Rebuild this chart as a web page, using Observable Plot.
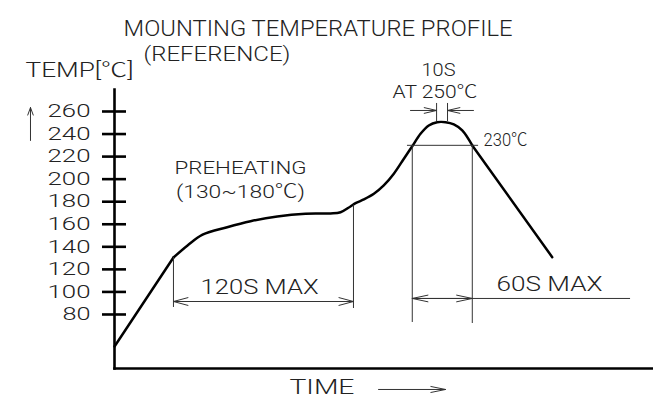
<!DOCTYPE html>
<html><head><meta charset="utf-8">
<script src="https://cdn.jsdelivr.net/npm/d3@7"></script>
<script src="https://cdn.jsdelivr.net/npm/@observablehq/plot@0.6"></script>
<style>
html,body{margin:0;padding:0;background:#fff;}
#chart{width:653px;height:405px;overflow:hidden;}
#chart svg text{font-family:Roboto,"Noto Sans CJK SC","Liberation Sans",sans-serif;font-weight:300;fill:#222;}
</style></head><body><div id="chart"></div>
<script>
// ---- Profile curve (time in s, temperature in °C) ----
const curveTime = [0, 39.3, 48.7, 58.7, 75.1, 90.7, 108.5, 127.3, 144, 150.7, 157.3, 160.7, 166.2, 172.9, 179.5, 186.2, 192.9, 198.5, 204, 209.5, 215.1, 220.7, 226.2, 231.8, 238.5, 291.8];
const curveTemp = [51.6, 130.5, 141.2, 150.8, 157.4, 162.7, 166.9, 169.3, 169.6, 170.7, 175.8, 178.7, 182, 187, 194.4, 204.8, 218.1, 229.2, 240.2, 247.6, 250.5, 250.5, 248.5, 243.2, 229.9, 130.8];

// ---- Axis ----
const yTicks = [80, 100, 120, 140, 160, 180, 200, 220, 240, 260];
const tempMin = 32.1, tempMax = 279.5;
const timeMin = 0, timeMax = 359.3;

// ---- Dimension annotations ----
const preheatTimes = [39.3, 159.3];       // 120S MAX span
const preheatTops = [130.5, 177];
const preheatBottoms = [86.2, 85.3];
const preheatArrowTemp = 91.5;
const reflowTimes = [198.5, 238.5];       // 60S MAX span (above 230 °C)
const reflowTemp = 230;
const reflowBottoms = [72.9, 72.0];
const reflowArrowTemp = 94.2;
const reflowTailEnd = 344;
const reflowRule = [195.3, 242.7];
const peakTimes = [214.7, 222];           // 10S at 250 °C
const peakExt = [251, 267.1];
const peakArrowTemp = 260.9;
const peakArrowOuter = [197.3, 239.3];
const timeArrow = [176, 220.7], timeArrowTemp = 13.5;
const tempArrowTime = -56, tempArrowRange = [234.3, 263.5];

// ---- Text labels ----
const labels = [
  {text: "MOUNTING TEMPERATURE PROFILE", t: 135.7, T: 333.6, size: 22},
  {text: "(REFERENCE)", t: 68.3, T: 310.5, size: 20},
  {text: "TEMP[℃]", t: -23.3, T: 296.3, size: 20},
  {text: "PREHEATING", t: 84, T: 209.9, size: 19},
  {text: "(130~180℃)", t: 84, T: 189.0, size: 19},
  {text: "10S", t: 216, T: 296.8, size: 18},
  {text: "AT 250℃", t: 213.7, T: 277.3, size: 18},
  {text: "230℃", t: 260.7, T: 234.3, size: 18},
  {text: "120S MAX", t: 96.7, T: 103.9, size: 20},
  {text: "60S MAX", t: 290, T: 106.6, size: 20},
  {text: "TIME", t: 138.3, T: 14.8, size: 20}
];
const textWidths = {
  "MOUNTING TEMPERATURE PROFILE": 389, "(REFERENCE)": 147, "TEMP[℃]": 108,
  "PREHEATING": 132, "(130~180℃)": 129, "10S": 34, "AT 250℃": 85, "230℃": 44,
  "120S MAX": 118, "60S MAX": 106, "TIME": 65, "80": 28
};

const rows = curveTime.map((t, i) => ({t, T: curveTemp[i]}));
const dim = {stroke: "#333", strokeWidth: 1};
const arr = (x1, x2, y1, y2, len, ang, extra = {}) => Plot.arrow([0], {x1: () => x1, x2: () => x2, y1: () => y1, y2: () => y2, headLength: len, headAngle: ang, ...dim, ...extra});
const backOff = 14; // s, lets the short 10S arrows keep a full-size head

const marks = [
  Plot.frame({anchor: "left", strokeWidth: 2.6, stroke: "#000"}),
  Plot.frame({anchor: "bottom", strokeWidth: 2.6, stroke: "#000"}),
  Plot.ruleY(yTicks, {y: d => d, x1: () => -8, x2: () => 8, strokeWidth: 2.6, stroke: "#000"}),
  Plot.axisY(yTicks, {tickSize: 0, tickPadding: 24, fontSize: 18, label: null, tickFormat: d => String(d)}),
  // curve
  Plot.line(rows.slice(0, 2), {x: "t", y: "T", strokeWidth: 2.5, stroke: "#000"}),
  Plot.line(rows.slice(1, 25), {x: "t", y: "T", strokeWidth: 2.5, stroke: "#000", curve: "catmull-rom"}),
  Plot.line(rows.slice(24), {x: "t", y: "T", strokeWidth: 2.5, stroke: "#000"}),
  // preheat dimension
  Plot.ruleX(preheatTimes.map((t, i) => ({t, a: preheatBottoms[i], b: preheatTops[i]})), {x: "t", y1: "a", y2: "b", ...dim}),
  arr(preheatTimes[1], preheatTimes[0], preheatArrowTemp, preheatArrowTemp, 22.5, 30),
  arr(preheatTimes[0], preheatTimes[1], preheatArrowTemp, preheatArrowTemp, 22.5, 30),
  // 230 reflow dimension
  Plot.ruleY([reflowTemp], {x1: () => reflowRule[0], x2: () => reflowRule[1], ...dim}),
  Plot.ruleX(reflowTimes.map((t, i) => ({t, a: reflowBottoms[i], b: reflowTemp})), {x: "t", y1: "a", y2: "b", ...dim}),
  arr(reflowTimes[1], reflowTimes[0], reflowArrowTemp, reflowArrowTemp, 24, 24),
  arr(reflowTimes[0], reflowTimes[1], reflowArrowTemp, reflowArrowTemp, 24, 24),
  Plot.ruleY([reflowArrowTemp], {x1: () => reflowTimes[1], x2: () => reflowTailEnd, ...dim}),
  // peak dimension
  Plot.ruleX(peakTimes, {x: d => d, y1: () => peakExt[0], y2: () => peakExt[1], ...dim}),
  arr(peakArrowOuter[0] - backOff, peakTimes[0], peakArrowTemp, peakArrowTemp, 19, 26, {insetStart: backOff * 1.5}),
  arr(peakArrowOuter[1] + backOff, peakTimes[1], peakArrowTemp, peakArrowTemp, 19, 26, {insetStart: backOff * 1.5}),
  // axis direction arrows
  arr(timeArrow[0], timeArrow[1], timeArrowTemp, timeArrowTemp, 22.5, 23),
  arr(tempArrowTime, tempArrowTime, tempArrowRange[0], tempArrowRange[1], 12, 40),
  // labels
  Plot.text(labels, {x: "t", y: "T", text: "text", textAnchor: "middle", lineAnchor: "middle"})
];

const plot = Plot.plot({
  width: 653, height: 405,
  marginLeft: 114, marginRight: 0, marginTop: 89, marginBottom: 37,
  x: {domain: [timeMin, timeMax], axis: null},
  y: {domain: [tempMin, tempMax], axis: null},
  style: {background: "#fff", overflow: "visible"},
  marks
});
plot.querySelectorAll("text").forEach(el => {
  const lab = labels.find(l => l.text === el.textContent);
  if (lab) el.setAttribute("font-size", lab.size);
  const w = textWidths[el.textContent] || (/^\d{3}$/.test(el.textContent) ? 43 : null);
  if (w) { el.setAttribute("textLength", w); el.setAttribute("lengthAdjust", "spacingAndGlyphs"); }
});
document.getElementById("chart").appendChild(plot);
</script></body></html>
